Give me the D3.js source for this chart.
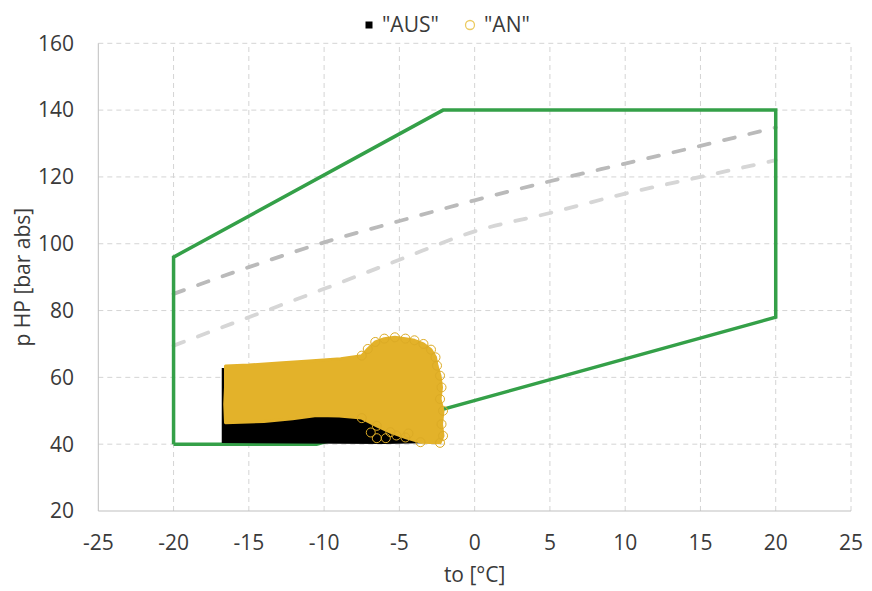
<!DOCTYPE html>
<html>
<head>
<meta charset="utf-8">
<script src="https://cdn.jsdelivr.net/npm/d3@7"></script>
<style>
  body { margin: 0; background: #fff; }
  text { font-family: "Open Sans", "Noto Sans", sans-serif; fill: #3a3a3a; }
</style>
</head>
<body>
<script>
var width = 872,
    height = 591;

// axis ticks
var xTicks = [-25, -20, -15, -10, -5, 0, 5, 10, 15, 20, 25];
var yTicks = [20, 40, 60, 80, 100, 120, 140, 160];

// operating envelope (green)
var envelope = [[-20, 40], [-20, 96], [-2.1, 140], [20, 140], [20, 78], [-10.5, 40], [-20, 40]];

// dashed reference lines
var dashDark = [[-20, 85], [-15, 93], [-10, 100.4], [-5, 106.8], [0, 113], [5, 118.7], [10, 124], [15, 129.3], [20, 134.8]];
var dashLight = [[-20, 69.5], [-15, 78], [-10, 86.5], [-5, 95.2], [0, 103.7], [5, 109.2], [10, 115], [15, 120], [20, 125]];

// "AUS" cloud outline (dense black squares)
var ausCloud = [[-16.75, 62.6], [-16.75, 40.6], [-12, 40.4], [-6, 40.3], [-3.6, 40.5], [-4.5, 44],
                [-6.5, 48], [-10, 50], [-16, 62.4]];

// "AN" cloud outline (dense open circles)
var anCloud = [[-16.55, 46.4], [-16.6, 52], [-16.55, 57], [-16.55, 63.4], [-15, 63.7], [-13, 64.3], [-11, 64.9],
               [-8.9, 65.6], [-7.5, 66.5], [-7.1, 68.5], [-6.6, 70.6], [-6.0, 71.6], [-5.3, 72.0],
               [-4.6, 71.6], [-4.0, 71.1], [-3.4, 70.0], [-2.9, 68.3], [-2.6, 66.0], [-2.5, 63.5],
               [-2.3, 60.5], [-2.2, 57], [-2.3, 53.5], [-2.1, 50], [-2.2, 46], [-2.1, 42.5], [-2.3, 40.4],
               [-3.6, 40.6], [-4.6, 42.0], [-5.6, 43.6], [-6.5, 45.5], [-7.5, 47.8], [-9, 48.4],
               [-10.5, 48.6], [-12.1, 47.6], [-14, 46.8], [-16.55, 46.4]];
// a few loose "AN" circles over the black area
var anLoose = [[-6.5, 41.8], [-5.9, 41.8], [-5.2, 42.6], [-4.4, 43.2], [-6.9, 43.5]];

var legendItems = ['"AUS"', '"AN"'];

var svg = d3.select("body").append("svg")
    .attr("width", width)
    .attr("height", height);

var x = d3.scaleLinear().domain([-25, 25]).range([98.3, 851]);
var y = d3.scaleLinear().domain([20, 160]).range([511, 43.3]);

// grid
var grid = svg.append("g");
grid.selectAll(".vg")
    .data(xTicks.filter(function (d) { return d > -25; }))
    .enter().append("line")
    .attr("x1", function (d) { return x(d); })
    .attr("x2", function (d) { return x(d); })
    .attr("y1", y(20)).attr("y2", y(160))
    .style("stroke", "#d4d4d4")
    .style("stroke-dasharray", "5,4");
grid.selectAll(".hg")
    .data(yTicks.filter(function (d) { return d > 20; }))
    .enter().append("line")
    .attr("y1", function (d) { return y(d); })
    .attr("y2", function (d) { return y(d); })
    .attr("x1", x(-25)).attr("x2", x(25))
    .style("stroke", "#d4d4d4")
    .style("stroke-dasharray", "5,4");

// axes lines
svg.append("line")
    .attr("x1", x(-25)).attr("x2", x(-25)).attr("y1", y(20)).attr("y2", y(160))
    .style("stroke", "#bfbfbf");
svg.append("line")
    .attr("x1", x(-25)).attr("x2", x(25)).attr("y1", y(20)).attr("y2", y(20))
    .style("stroke", "#bfbfbf");

// tick labels
svg.selectAll(".xl")
    .data(xTicks)
    .enter().append("text")
    .attr("x", function (d) { return x(d); })
    .attr("y", 543)
    .attr("dy", "0.35em")
    .attr("text-anchor", "middle")
    .style("font-size", "21px")
    .text(function (d) { return d; });
svg.selectAll(".yl")
    .data(yTicks)
    .enter().append("text")
    .attr("x", 74)
    .attr("y", function (d) { return y(d); })
    .attr("dy", "0.35em")
    .attr("text-anchor", "end")
    .style("font-size", "21px")
    .text(function (d) { return d; });

// axis titles
svg.append("text")
    .attr("x", x(0)).attr("y", 575)
    .attr("dy", "0.35em")
    .attr("text-anchor", "middle")
    .style("font-size", "21px")
    .text("to [°C]");
svg.append("text")
    .attr("transform", "translate(23," + ((y(20) + y(160)) / 2) + ") rotate(-90)")
    .attr("dy", "0.35em")
    .attr("text-anchor", "middle")
    .style("font-size", "21px")
    .text("p HP [bar abs]");

var line = d3.line()
    .x(function (d) { return x(d[0]); })
    .y(function (d) { return y(d[1]); });

// dashed lines
svg.append("path")
    .attr("d", line.curve(d3.curveMonotoneX)(dashDark))
    .style("fill", "none")
    .style("stroke", "#bababa")
    .style("stroke-width", 3.8)
    .style("stroke-linecap", "round")
    .style("stroke-dasharray", "11,15");
svg.append("path")
    .attr("d", line.curve(d3.curveMonotoneX)(dashLight))
    .style("fill", "none")
    .style("stroke", "#d6d6d6")
    .style("stroke-width", 3.8)
    .style("stroke-linecap", "round")
    .style("stroke-dasharray", "11,15");

line.curve(d3.curveLinear);

// envelope
svg.append("path")
    .attr("d", line(envelope))
    .style("fill", "none")
    .style("stroke", "#34a048")
    .style("stroke-width", 3.5)
    .style("stroke-linejoin", "miter");

// AUS cloud
svg.append("path")
    .attr("d", line(ausCloud) + "Z")
    .style("fill", "#000")
    .style("stroke", "#000")
    .style("stroke-width", 1.5);

// AN cloud
var anColor = "#e3b22a";
svg.append("path")
    .attr("d", line(anCloud) + "Z")
    .style("fill", anColor)
    .style("stroke", anColor)
    .style("stroke-width", 3)
    .style("stroke-linejoin", "round");
// edge circles only where the cloud edge is ragged
svg.selectAll(".anm")
    .data(anCloud.filter(function (d) { return d[0] > -7.6; }).concat(anLoose))
    .enter().append("circle")
    .attr("cx", function (d) { return x(d[0]); })
    .attr("cy", function (d) { return y(d[1]); })
    .attr("r", 4.5)
    .style("fill", "none")
    .style("stroke", "#dcab25")
    .style("stroke-width", 1);

// legend
var lg = svg.append("g");
lg.append("rect")
    .attr("x", 365.5).attr("y", 21.5)
    .attr("width", 7).attr("height", 7)
    .style("fill", "#000");
lg.append("text")
    .attr("x", 382).attr("y", 25)
    .attr("dy", "0.35em")
    .style("font-size", "21px")
    .text(legendItems[0]);
lg.append("circle")
    .attr("cx", 470).attr("cy", 25).attr("r", 4.5)
    .style("fill", "#fff")
    .style("stroke", "#eccb62")
    .style("stroke-width", 1.3);
lg.append("text")
    .attr("x", 484).attr("y", 25)
    .attr("dy", "0.35em")
    .style("font-size", "21px")
    .text(legendItems[1]);
</script>
</body>
</html>
